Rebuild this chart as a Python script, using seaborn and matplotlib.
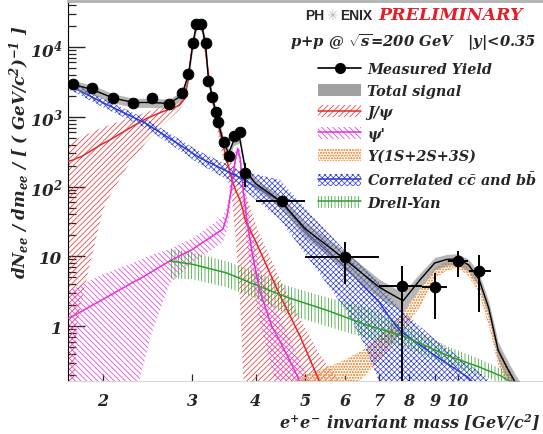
import numpy as np
import pandas as pd
import matplotlib
matplotlib.use("Agg")
import matplotlib.pyplot as plt
import seaborn as sns
from matplotlib.patches import Patch
from matplotlib.lines import Line2D
from matplotlib.ticker import FixedLocator, FixedFormatter, LogLocator, NullFormatter, NullLocator

# ---------------- data ----------------
# measured yield
meas_m = [1.75, 1.91, 2.10, 2.30, 2.50, 2.70, 2.86, 2.95, 3.01, 3.06, 3.13, 3.19, 3.23, 3.29,
          3.34, 3.38, 3.46, 3.54, 3.62, 3.72, 3.82, 4.5, 6.0, 7.75, 9.0, 10.0, 11.0]
meas_y = [2950, 2585, 1860, 1570, 1860, 1520, 2190, 4100, 11400, 21400, 21400, 11400, 3260, 1920,
          1175, 840, 434, 274, 530, 609, 156, 62, 9.8, 3.75, 3.6, 8.5, 6.1]
meas_xlo = [0] * 21 + [0.5, 1.0, 0.75, 0.5, 0.45, 0.5]
meas_xhi = [0] * 21 + [0.5, 1.0, 0.75, 0.5, 0.45, 0.6]
meas_ylo = [0] * 20 + [56, 8, 5.8, 3.74, 2.35, 3.5, 4.5]
meas_yhi = [0] * 20 + [64, 10, 6.2, 3.45, 2.15, 3.4, 4.3]

# total signal
tot_m = [1.71, 1.75, 1.91, 2.10, 2.30, 2.50, 2.70, 2.86, 2.95, 3.01, 3.06, 3.13, 3.19, 3.23, 3.29,
         3.34, 3.38, 3.46, 3.54, 3.62, 3.72, 3.82, 4.0, 4.5, 5.0, 6.0, 7.0, 7.8, 8.4, 9.0, 9.5,
         10.0, 10.5, 11.0, 11.5, 12.0, 12.5, 13.0, 13.5]
tot_y = [3000, 2900, 2450, 1850, 1600, 1600, 1550, 2000, 4000, 11000, 21000, 21000, 11000, 3300,
         1900, 1150, 800, 430, 300, 450, 500, 170, 110, 60, 25, 9, 3.6, 2.3, 4.5, 8.0, 9.0,
         9.2, 7.5, 4.7, 1.8, 0.45, 0.25, 0.15, 0.1]
tot_rel = [0.15] * 23 + [0.2, 0.25, 0.3, 0.3, 0.3, 0.25, 0.2, 0.18, 0.18, 0.2, 0.22, 0.25,
                         0.3, 0.3, 0.3, 0.3]

# J/psi
jpsi_m = [1.71, 1.75, 1.78, 1.82, 2.0, 2.05, 2.24, 2.43, 2.6, 2.83, 2.90, 2.95, 3.00, 3.05, 3.10,
          3.15, 3.20, 3.25, 3.30, 3.40, 3.50, 3.59, 3.65, 3.72, 3.78, 3.81, 4.04, 4.46, 4.89,
          5.34, 5.6, 5.96, 6.3]
jpsi_y = [230, 240, 255, 270, 410, 450, 660, 930, 1150, 1450, 1800, 3500, 10000, 18000, 21000,
          17000, 7000, 3000, 1600, 620, 260, 128, 90, 66, 45, 34, 14, 2.8, 0.72, 0.16, 0.07,
          0.03, 0.01]
jpsi_hi = [420, 440, 480, 520, 700, 750, 950, 1150, 1350, 1650, 2050, 3900, 11000, 19800, 23000,
           18700, 7700, 3500, 1900, 800, 380, 220, 170, 130, 100, 85, 24, 4.8, 1.3, 0.4, 0.25,
           0.14, 0.08]
jpsi_lo = [0.01, 0.05, 1.0, 2.4, 45, 66, 196, 420, 700, 1250, 1600, 3100, 9000, 16200, 19000,
           15300, 6300, 2600, 1300, 420, 160, 70, 20, 3.0, 0.2, 0.05, 0.01, 0.01, 0.01, 0.01,
           0.01, 0.01, 0.01]

# psi'
psip_m = [1.71, 1.75, 2.0, 2.29, 2.36, 2.5, 2.71, 3.0, 3.45, 3.52, 3.58, 3.65, 3.69, 3.73, 3.78,
          3.85, 3.95, 4.07, 4.3, 4.47, 4.82, 5.0, 5.3]
psip_y = [1.3, 1.39, 2.4, 4.2, 4.7, 6.0, 8.55, 12.5, 24.6, 40, 90, 250, 350, 250, 90, 30, 10,
          3.3, 1.0, 0.6, 0.2, 0.1, 0.04]
psip_hi = [3.2, 3.4, 5.5, 8.0, 8.8, 10.5, 12.7, 18, 37, 55, 130, 330, 420, 330, 140, 55, 20,
           7, 2.2, 1.3, 0.4, 0.22, 0.1]
psip_lo = [0.01, 0.01, 0.01, 0.01, 0.16, 0.8, 4.0, 8.0, 16, 25, 60, 180, 290, 180, 50, 14, 4,
           1.2, 0.25, 0.1, 0.01, 0.01, 0.01]

# Upsilon(1S+2S+3S)
ups_m = [4.3, 4.6, 5.0, 5.5, 6.0, 6.5, 7.0, 7.5, 8.0, 8.5, 9.0, 9.5, 10.0, 10.5, 11.0, 11.5,
         12.0, 12.5, 13.0, 13.5]
ups_y = [0.05, 0.08, 0.11, 0.15, 0.21, 0.3, 0.5, 0.85, 1.5, 2.8, 5.8, 7.3, 7.8, 6.2, 3.6, 1.3,
         0.38, 0.2, 0.12, 0.07]
ups_hi = [0.12, 0.15, 0.2, 0.25, 0.33, 0.45, 0.72, 1.15, 2.0, 3.6, 6.8, 8.5, 8.8, 7.2, 4.3, 1.6,
          0.5, 0.28, 0.16, 0.1]
ups_lo = [0.01, 0.02, 0.05, 0.08, 0.12, 0.18, 0.32, 0.6, 1.1, 2.1, 4.8, 6.2, 6.8, 5.2, 2.9, 1.0,
          0.28, 0.14, 0.08, 0.04]

# correlated c-cbar and b-bbar
ccb_m = [1.71, 1.75, 2.0, 2.42, 2.8, 3.1, 3.72, 4.46, 5.1, 6.0, 6.5, 7.0, 7.3, 7.7, 9.0, 10.4,
         11.0, 11.6, 12.2]
ccb_y = [2800, 2650, 1600, 820, 420, 260, 135, 62, 20, 7, 3.8, 2.2, 1.4, 0.85, 0.38, 0.19, 0.13,
         0.09, 0.06]
ccb_hi = [3200, 3050, 1850, 950, 500, 320, 170, 125, 42, 12, 7, 4.2, 2.8, 1.75, 0.65, 0.3, 0.22,
          0.16, 0.1]
ccb_lo = [2450, 2300, 1380, 700, 350, 210, 100, 34, 9, 1.75, 0.6, 0.16, 0.05, 0.01, 0.01, 0.01,
          0.01, 0.01, 0.01]

# Drell-Yan
dy_m = [2.71, 3.0, 3.5, 4.0, 4.6, 5.5, 6.7, 7.8, 9.6, 11.0, 12.2, 12.8]
dy_y = [8.6, 7.7, 5.8, 3.9, 2.6, 1.7, 1.0, 0.72, 0.37, 0.26, 0.19, 0.15]
dy_hi = [12.7, 11.5, 8.5, 6.0, 3.8, 2.6, 1.8, 1.05, 0.5, 0.34, 0.24, 0.19]
dy_lo = [4.8, 4.7, 3.6, 2.5, 1.5, 1.0, 0.65, 0.5, 0.27, 0.2, 0.15, 0.12]

x_ticks = [2, 3, 4, 5, 6, 7, 8, 9, 10]
x_ticklabels = ["2", "3", "4", "5", "6", "7", "8", "9", "10"]
y_ticks = [1, 10, 100, 1000, 10000]
y_ticklabels = ["1", "10", "$10^{2}$", "$10^{3}$", "$10^{4}$"]

# ---------------- style ----------------
sns.set_style("ticks")
plt.rcParams.update({
    "font.family": ["DejaVu Serif"],
    "font.weight": "bold",
    "font.style": "italic",
    "mathtext.fontset": "custom",
    "mathtext.rm": "DejaVu Serif:bold:italic",
    "mathtext.it": "DejaVu Serif:bold:italic",
    "mathtext.bf": "DejaVu Serif:bold:italic",
    "mathtext.sf": "DejaVu Serif:bold:italic",
    "hatch.linewidth": 0.5,
    "xtick.direction": "in",
    "ytick.direction": "in",
})

W, H = 543, 435
fig = plt.figure(figsize=(W / 100, H / 100), dpi=100)
ax = fig.add_axes([68 / W, (H - 382) / H, (W - 68) / W, (382 - 2) / H])
ax.set_xscale("log")
ax.set_yscale("log")
ax.set_xlim(1.71, 14.7)
ax.set_ylim(0.163, 45600)

RED = "#e8262a"
MAG = "#e62ee0"
ORA = "#f5a05a"
BLU = "#2a3ad8"
GRN = "#2aa02a"

H_RED = "//////"
H_MAG = "\\\\\\\\\\\\"
H_ORA = "oooooo"
H_BLU = "xxxxxx"
H_GRN = "|||||"

def band(xs, lo, hi, color, hatch, z):
    ax.fill_between(xs, lo, hi, facecolor="none", edgecolor=color, hatch=hatch,
                    linewidth=0, zorder=z)

band(jpsi_m, jpsi_lo, jpsi_hi, RED, H_RED, 1)
band(psip_m, psip_lo, psip_hi, MAG, H_MAG, 1)
band(ups_m, ups_lo, ups_hi, ORA, H_ORA, 1)
band(ccb_m, ccb_lo, ccb_hi, BLU, H_BLU, 1)
band(dy_m, dy_lo, dy_hi, GRN, H_GRN, 1)

sns.lineplot(x=jpsi_m, y=jpsi_y, color=RED, lw=1.1, ax=ax, estimator=None, sort=False, zorder=3)
sns.lineplot(x=psip_m, y=psip_y, color=MAG, lw=1.1, ax=ax, estimator=None, sort=False, zorder=3)
sns.lineplot(x=ccb_m, y=ccb_y, color=BLU, lw=1.1, ax=ax, estimator=None, sort=False, zorder=3)
sns.lineplot(x=dy_m, y=dy_y, color=GRN, lw=1.1, ax=ax, estimator=None, sort=False, zorder=3)

tot = pd.DataFrame({"m": tot_m, "y": tot_y, "rel": tot_rel})
ax.fill_between(tot["m"], tot["y"] * (1 - tot["rel"]), tot["y"] * (1 + tot["rel"]),
                color="#7a7a7a", alpha=0.55, linewidth=0, zorder=4)
sns.lineplot(data=tot, x="m", y="y", color="black", lw=1.0, ax=ax, estimator=None,
             sort=False, zorder=5)

ax.errorbar(meas_m, meas_y, xerr=[meas_xlo, meas_xhi], yerr=[meas_ylo, meas_yhi],
            fmt="none", ecolor="black", elinewidth=1.4, capsize=0, zorder=6)
sns.scatterplot(x=meas_m, y=meas_y, color="black", s=60, edgecolor="black", ax=ax,
                zorder=7, legend=False)

# ---------------- axes cosmetics ----------------
ax.xaxis.set_major_locator(FixedLocator(x_ticks))
ax.xaxis.set_major_formatter(FixedFormatter(x_ticklabels))
ax.xaxis.set_minor_locator(NullLocator())
ax.yaxis.set_major_locator(FixedLocator(y_ticks))
ax.yaxis.set_major_formatter(FixedFormatter(y_ticklabels))
ax.yaxis.set_minor_locator(LogLocator(base=10, subs=np.arange(2, 10)))
ax.yaxis.set_minor_formatter(NullFormatter())
ax.tick_params(axis="y", which="major", length=12, width=1.0, labelsize=12, pad=4)
ax.tick_params(axis="y", which="minor", length=6, width=0.9)
ax.tick_params(axis="x", which="major", length=5, width=0.9, labelsize=11.5, pad=8)
ax.set_xlabel("")
ax.set_ylabel("")
ax.spines["right"].set_visible(False)
ax.spines["left"].set_color("black")
ax.spines["bottom"].set_color("#d8d8d8")
ax.spines["top"].set_color("#b0b0b0")
ax.spines["top"].set_linewidth(2)

fig.text(541 / W, 1 - 423 / H, r"$e^{+}e^{-}$ invariant mass [GeV/c$^{2}$]",
         ha="right", va="center", fontsize=11.5)
fig.text(20 / W, 1 - 152 / H, r"dN$_{ee}$ / dm$_{ee}$ / [ ( GeV/c$^{2}$)$^{-1}$ ]",
         rotation=90, ha="center", va="center", fontsize=12)

# header
fig.text(305 / W, 1 - 16 / H, "PH", fontfamily="Liberation Sans", fontweight="bold",
         fontstyle="normal", fontsize=10, ha="left", va="center")
fig.text(332 / W, 1 - 16 / H, "\u2733", fontfamily="DejaVu Sans", fontweight="bold",
         fontstyle="normal", fontsize=10, color="#b8b8b8", ha="center", va="center")
fig.text(340 / W, 1 - 16 / H, "ENIX", fontfamily="Liberation Sans", fontweight="bold",
         fontstyle="normal", fontsize=10, ha="left", va="center")
fig.text(378 / W, 1 - 16 / H, "PRELIMINARY", color="#e3202a", fontsize=12.5,
         ha="left", va="center")
fig.text(290 / W, 1 - 43 / H, r"p+p @ $\sqrt{s}$=200 GeV   |y|<0.35", fontsize=10.6,
         ha="left", va="center")

# legend
handles = [
    Line2D([], [], color="black", lw=1.2, marker="o", markersize=7),
    Patch(facecolor="#8a8a8a", edgecolor="none", alpha=0.8),
    (Patch(facecolor="none", edgecolor=RED, hatch=H_RED, lw=0), Line2D([], [], color=RED, lw=1.1)),
    (Patch(facecolor="none", edgecolor=MAG, hatch=H_MAG, lw=0), Line2D([], [], color=MAG, lw=1.1)),
    Patch(facecolor="none", edgecolor=ORA, hatch=H_ORA, lw=0),
    (Patch(facecolor="none", edgecolor=BLU, hatch=H_BLU, lw=0), Line2D([], [], color=BLU, lw=1.1)),
    (Patch(facecolor="none", edgecolor=GRN, hatch=H_GRN, lw=0), Line2D([], [], color=GRN, lw=1.1)),
]
labels = ["Measured Yield", "Total signal", "J/\u03c8", "\u03c8'", "\u03a5(1S+2S+3S)",
          r"Correlated $c\bar{c}$ and $b\bar{b}$", "Drell-Yan"]
fig.legend(handles, labels, loc="upper left", bbox_to_anchor=(318 / W, 1 - 63 / H),
           frameon=False, fontsize=10.4, handlelength=3.0, handleheight=0.9,
           handletextpad=0.4, labelspacing=0.53, borderpad=0, borderaxespad=0)

fig.savefig("out.png", dpi=100)
